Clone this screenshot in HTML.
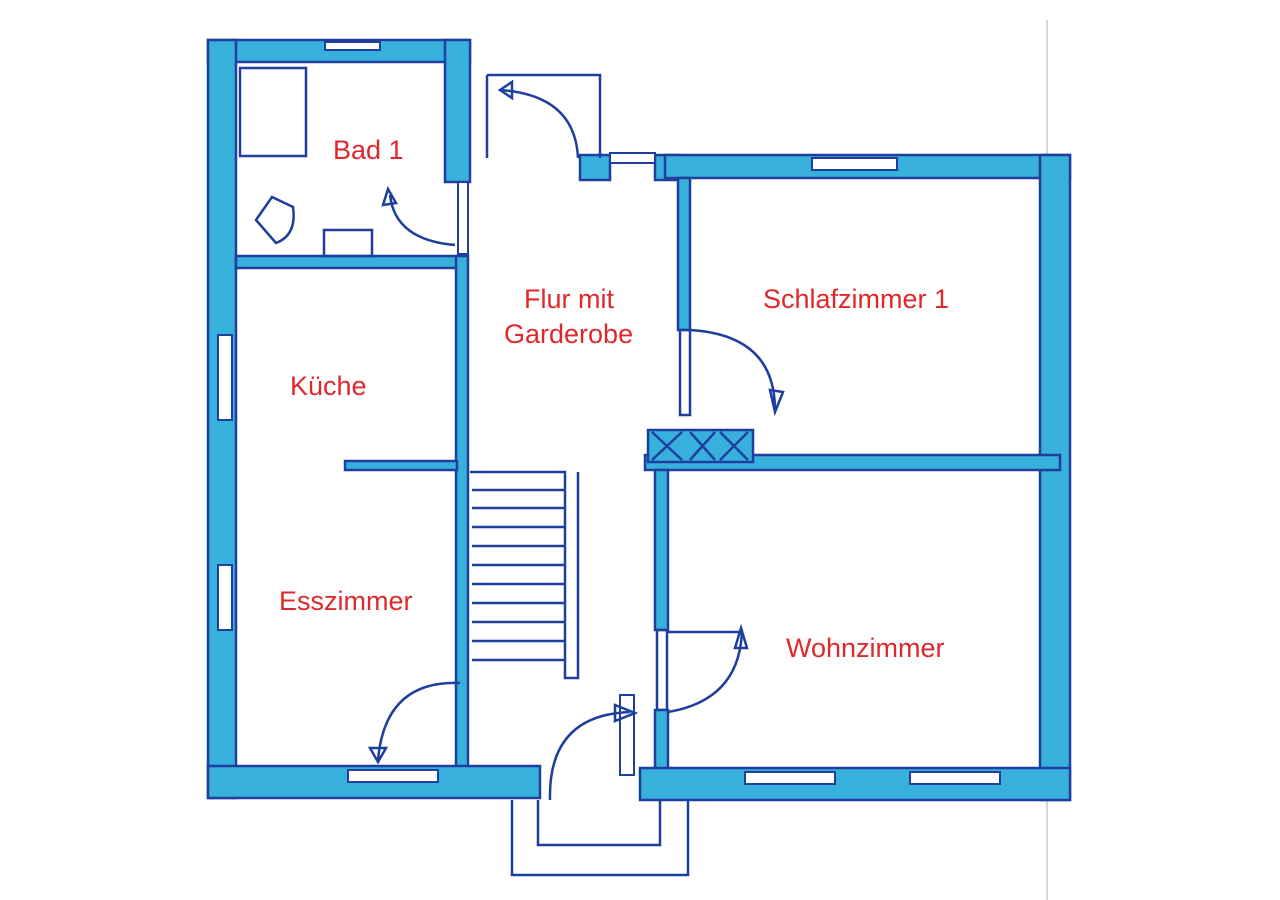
<!DOCTYPE html>
<html><head><meta charset="utf-8"><style>
html,body{margin:0;padding:0;background:#fff;}
svg{display:block}
text{font-family:"Liberation Sans",sans-serif;font-size:27px;fill:#e0282c;}
.w{fill:#38b0dc;stroke:#1f3f9e;stroke-width:2.5}
.l{fill:none;stroke:#1f3f9e;stroke-width:2.5}
.win{fill:#fff;stroke:#1f3f9e;stroke-width:2}
</style></head><body>
<svg width="1280" height="900" viewBox="0 0 1280 900">
<line x1="1047" y1="20" x2="1047" y2="900" stroke="#ccc" stroke-width="1.5"/>
<rect class="w" x="208" y="40" width="262" height="22"/>
<rect class="w" x="208" y="40" width="28" height="758"/>
<rect class="w" x="445" y="40" width="25" height="142"/>
<rect class="w" x="236" y="256" width="226" height="12"/>
<rect class="w" x="456" y="256" width="12" height="520"/>
<rect class="w" x="345" y="461" width="112" height="9"/>
<rect class="w" x="208" y="766" width="332" height="32"/>
<rect class="win" x="325" y="42" width="55" height="8"/>
<rect class="win" x="218" y="335" width="14" height="85"/>
<rect class="win" x="218" y="565" width="14" height="65"/>
<rect class="win" x="348" y="770" width="90" height="12"/>
<rect class="w" x="580" y="155" width="30" height="25"/>
<rect class="w" x="655" y="155" width="25" height="25"/>
<rect class="win" x="610" y="153" width="45" height="10"/>
<path class="l" d="M487 75 V158 M487 75 H600 V158 M500 90 Q575 95 578 158"/>
<path class="l" d="M500 90 l12 -8 v16 z"/>
<rect class="w" x="665" y="155" width="405" height="23"/>
<rect class="win" x="812" y="158" width="85" height="12"/>
<rect class="w" x="1040" y="155" width="30" height="645"/>
<rect class="w" x="678" y="178" width="12" height="152"/>
<rect class="l" x="680" y="330" width="10" height="85"/>
<rect class="w" x="645" y="455" width="415" height="15"/>
<rect class="w" x="648" y="430" width="105" height="32"/>
<path class="l" d="M652 432 l30 28 M682 432 l-30 28 M690 432 l25 28 M715 432 l-25 28 M720 432 l28 28 M748 432 l-28 28"/>
<rect class="w" x="655" y="470" width="13" height="160"/>
<rect class="l" x="657" y="630" width="10" height="80"/>
<rect class="w" x="655" y="710" width="13" height="60"/>
<rect class="w" x="640" y="768" width="430" height="32"/>
<rect class="win" x="745" y="772" width="90" height="12"/>
<rect class="win" x="910" y="772" width="90" height="12"/>
<rect class="win" x="620" y="695" width="14" height="80"/>
<path class="l" d="M690 330 Q775 335 775 410 M770 390 l5 22 l8 -20 z"/>
<path class="l" d="M668 632 H740 M668 712 Q740 700 742 630 M735 648 l6 -20 l6 20 z"/>
<path class="l" d="M550 800 Q548 715 630 712 M615 705 l20 8 l-20 8 z"/>
<path class="l" d="M460 683 Q385 680 378 760 M370 748 l8 14 l8 -14 z"/>
<path class="l" d="M455 245 Q395 240 390 195 M383 205 l5 -16 l8 14 z"/>
<rect class="win" x="458" y="182" width="10" height="72"/>
<rect class="l" x="240" y="68" width="66" height="88"/>
<path class="l" d="M256 220 L272 197 L293 207 Q297 235 276 243 Z"/>
<rect class="l" x="324" y="230" width="48" height="26"/>
<path class="l" d="M470 472 H565 V678 H578 V472"/>
<g class="l">
<path d="M472 490H565M472 508H565M472 527H565M472 546H565M472 565H565M472 584H565M472 603H565M472 622H565M472 641H565M472 660H565"/>
</g>
<path class="l" d="M512 800 V875 H688 V800 M538 800 V845 H660 V800"/>
<text x="333" y="159">Bad 1</text>
<text x="524" y="308">Flur mit</text>
<text x="504" y="343">Garderobe</text>
<text x="763" y="308">Schlafzimmer 1</text>
<text x="290" y="395">Küche</text>
<text x="279" y="610">Esszimmer</text>
<text x="786" y="657">Wohnzimmer</text>
</svg>
</body></html>
